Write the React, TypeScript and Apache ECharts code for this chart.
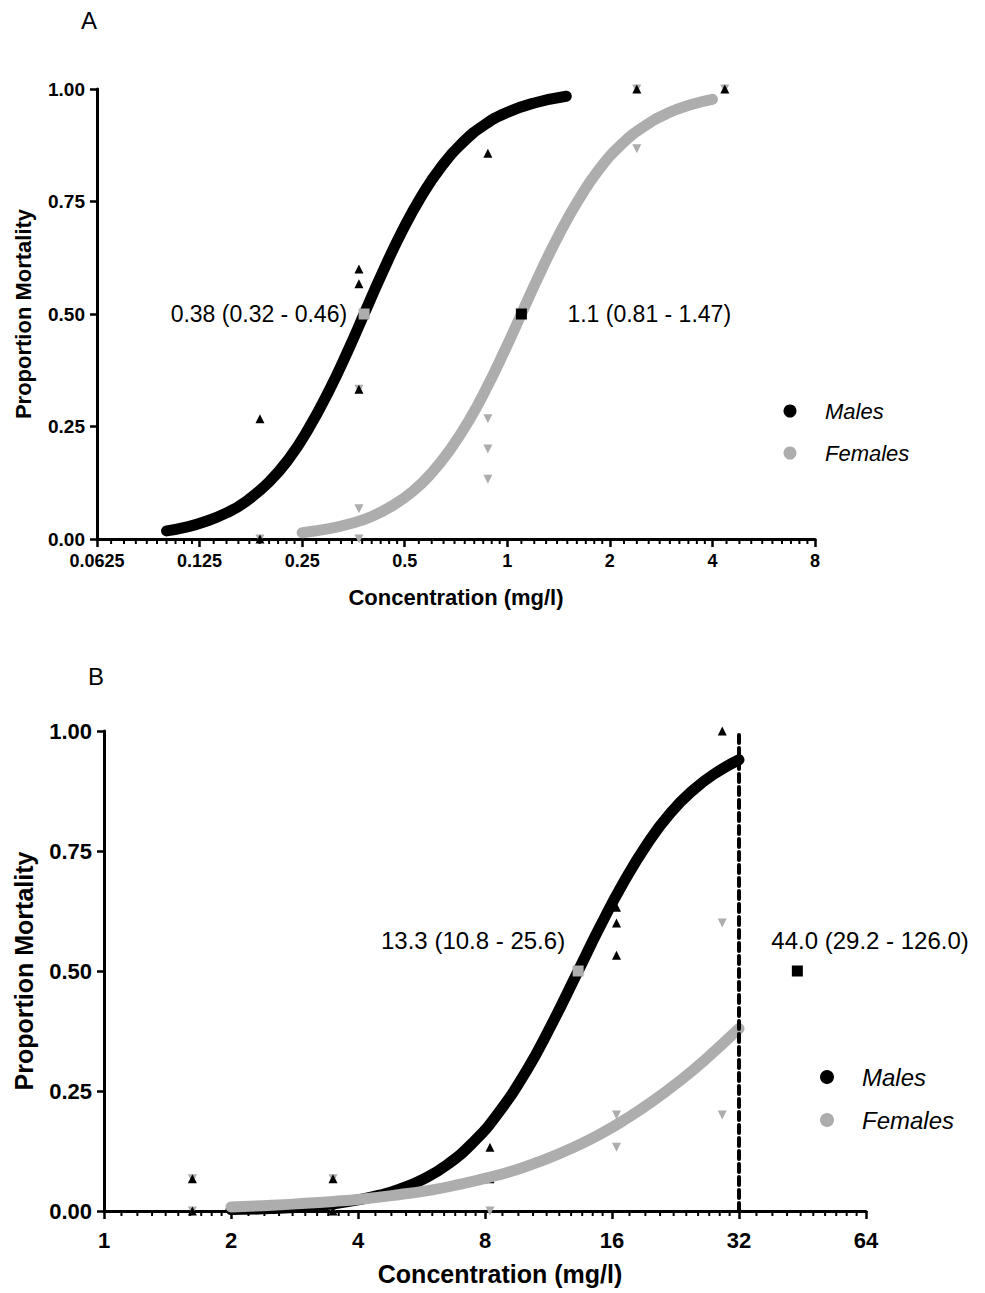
import React, { useEffect, useRef } from "react";
import * as echarts from "echarts";

// ---------- Data ----------
const xTicksA = [0.0625, 0.125, 0.25, 0.5, 1, 2, 4, 8];
const xTicksB = [1, 2, 4, 8, 16, 32, 64];
const yTicks = [0, 0.25, 0.5, 0.75, 1];

// Panel A observed points
const aMaleConc = [0.188, 0.188, 0.367, 0.367, 0.367, 0.877, 2.4, 4.35];
const aMaleMort = [0.267, 0.0, 0.6, 0.567, 0.333, 0.857, 1.0, 1.0];
const aFemaleConc = [0.188, 0.367, 0.367, 0.367, 0.877, 0.877, 0.877, 2.4, 2.4, 4.35];
const aFemaleMort = [0.0, 0.333, 0.067, 0.0, 0.267, 0.2, 0.133, 1.0, 0.867, 1.0];

// Panel A fitted curves
const aMaleCurveConc = [0.1, 0.115, 0.13, 0.15, 0.17, 0.2, 0.23, 0.26, 0.3, 0.34, 0.38, 0.43, 0.49, 0.56, 0.64, 0.74, 0.86, 1.0, 1.2, 1.49];
const aMaleCurveMort = [0.018, 0.027, 0.039, 0.058, 0.082, 0.127, 0.181, 0.243, 0.33, 0.417, 0.5, 0.592, 0.682, 0.762, 0.827, 0.881, 0.921, 0.948, 0.969, 0.984];
const aFemaleCurveConc = [0.25, 0.3, 0.35, 0.4, 0.46, 0.53, 0.6, 0.68, 0.77, 0.87, 0.98, 1.1, 1.25, 1.42, 1.62, 1.85, 2.15, 2.5, 2.95, 3.45, 4.0];
const aFemaleCurveMort = [0.014, 0.023, 0.035, 0.05, 0.074, 0.107, 0.147, 0.199, 0.262, 0.336, 0.417, 0.5, 0.592, 0.677, 0.754, 0.819, 0.875, 0.915, 0.946, 0.965, 0.977];

// Panel A LC50 markers
const aLcConc = [0.38, 1.1];
const aLcLabels = ["0.38 (0.32 - 0.46)", "1.1 (0.81 - 1.47)"];

// Panel B observed points
const bMaleConc = [1.62, 1.62, 3.49, 3.49, 8.22, 8.22, 16.4, 16.4, 16.4, 29.2];
const bMaleMort = [0.067, 0.0, 0.067, 0.0, 0.133, 0.067, 0.633, 0.6, 0.533, 1.0];
const bFemaleConc = [1.62, 1.62, 3.49, 3.49, 8.22, 16.4, 16.4, 29.2, 29.2];
const bFemaleMort = [0.067, 0.0, 0.067, 0.0, 0.0, 0.2, 0.133, 0.6, 0.2];

// Panel B fitted curves
const bMaleCurveConc = [2, 2.5, 3, 3.5, 4, 4.5, 5, 5.7, 6.5, 7.5, 8.5, 10, 11.5, 13.3, 15, 17, 19.5, 22, 25, 28, 32];
const bMaleCurveMort = [0.003, 0.005, 0.009, 0.015, 0.023, 0.033, 0.045, 0.066, 0.096, 0.143, 0.198, 0.29, 0.388, 0.5, 0.593, 0.683, 0.768, 0.829, 0.878, 0.911, 0.94];
const bFemaleCurveConc = [2, 2.5, 3, 3.5, 4, 5, 6, 7, 8, 9.5, 11, 13, 15, 17.5, 20, 23, 26.5, 32];
const bFemaleCurveMort = [0.0085, 0.012, 0.016, 0.02, 0.024, 0.034, 0.044, 0.056, 0.068, 0.086, 0.106, 0.133, 0.16, 0.195, 0.229, 0.269, 0.314, 0.38];

// Panel B LC50 markers
const bLcConc = [13.3, 44.0];
const bLcLabels = ["13.3 (10.8 - 25.6)", "44.0 (29.2 - 126.0)"];
const bCutoff = 32;

const legendNames = ["Males", "Females"];
const panelLetters = ["A", "B"];
const xTitle = "Concentration (mg/l)";
const yTitle = "Proportion Mortality";

const BLACK = "#000000";
const GRAY = "#adadad";
const FONT = 'Arial, "Liberation Sans", Helvetica, sans-serif';

const L = (v: number) => Math.log2(v);
const pairs = (xs: number[], ys: number[]) => xs.map((x, i) => [L(x), ys[i]]);

function minorTicks(majors: number[]) {
  const out: number[][] = [];
  for (let i = 0; i < majors.length - 1; i++) {
    const a = majors[i];
    for (let k = 1; k <= 9; k++) out.push([L(a * (1 + k / 10)), 0]);
  }
  return out;
}

function fmt(v: number) {
  const val = Math.pow(2, v);
  return String(Math.round(val * 10000) / 10000);
}

export default function App() {
  const ref = useRef<HTMLDivElement>(null);
  useEffect(() => {
    if (!ref.current) return;
    const chart = echarts.init(ref.current, null, { renderer: "svg" });

    const mkX = (idx: number, ticks: number[], labelSize: number, labelMargin: number, titleSize: number, nameGap: number, padLeft: number) => ({
      type: "value",
      gridIndex: idx,
      min: L(ticks[0]),
      max: L(ticks[ticks.length - 1]),
      interval: 1,
      axisLine: { show: true, onZero: false, lineStyle: { color: BLACK, width: 3 } },
      axisTick: { show: true, length: 8, lineStyle: { color: BLACK, width: 2.5 } },
      splitLine: { show: false },
      axisLabel: {
        formatter: (v: number) => fmt(v),
        fontSize: labelSize,
        fontWeight: "bold",
        color: BLACK,
        fontFamily: FONT,
        margin: labelMargin,
      },
      name: xTitle,
      nameLocation: "middle",
      nameGap,
      nameTextStyle: { fontSize: titleSize, fontWeight: "bold", color: BLACK, fontFamily: FONT, padding: [0, 0, 0, padLeft] },
    });

    const mkY = (idx: number, labelSize: number, titleSize: number, nameGap: number) => ({
      type: "value",
      gridIndex: idx,
      min: yTicks[0],
      max: yTicks[yTicks.length - 1],
      interval: yTicks[1] - yTicks[0],
      axisLine: { show: true, onZero: false, lineStyle: { color: BLACK, width: 3 } },
      axisTick: { show: true, length: 7, lineStyle: { color: BLACK, width: 2.5 } },
      splitLine: { show: false },
      axisLabel: {
        formatter: (v: number) => v.toFixed(2),
        fontSize: labelSize,
        fontWeight: "bold",
        color: BLACK,
        fontFamily: FONT,
        margin: 12,
      },
      name: yTitle,
      nameLocation: "middle",
      nameGap,
      nameTextStyle: { fontSize: titleSize, fontWeight: "bold", color: BLACK, fontFamily: FONT },
    });

    const minorSeries = (idx: number, ticks: number[]) => ({
      type: "custom",
      xAxisIndex: idx,
      yAxisIndex: idx,
      silent: true,
      z: 1,
      data: minorTicks(ticks),
      renderItem: (_p: any, api: any) => {
        const p = api.coord([api.value(0), 0]);
        return {
          type: "line",
          shape: { x1: p[0], y1: p[1], x2: p[0], y2: p[1] + 5 },
          style: { stroke: BLACK, lineWidth: 2 },
        };
      },
    });

    const scatter = (idx: number, xs: number[], ys: number[], color: string, down: boolean) => ({
      type: "scatter",
      xAxisIndex: idx,
      yAxisIndex: idx,
      symbol: "triangle",
      symbolSize: 9,
      symbolRotate: down ? 180 : 0,
      itemStyle: { color, opacity: 1 },
      clip: false,
      z: 2,
      data: pairs(xs, ys),
    });

    const curve = (idx: number, name: string, xs: number[], ys: number[], color: string, extra: any = {}) => ({
      type: "line",
      name,
      xAxisIndex: idx,
      yAxisIndex: idx,
      smooth: true,
      showSymbol: false,
      symbol: "none",
      clip: false,
      z: 3,
      lineStyle: { color, width: 11, cap: "round", join: "round", opacity: 1 },
      itemStyle: { color },
      data: pairs(xs, ys),
      ...extra,
    });

    const lcSeries = (idx: number, xs: number[], labels: string[], colors: string[], positions: any[], aligns: string[], fontSize: number) => ({
      type: "scatter",
      xAxisIndex: idx,
      yAxisIndex: idx,
      symbol: "rect",
      symbolSize: 11,
      clip: false,
      z: 5,
      data: xs.map((x, i) => ({
        value: [L(x), 0.5],
        itemStyle: { color: colors[i], opacity: 1 },
        label: {
          show: true,
          formatter: labels[i],
          position: positions[i],
          align: aligns[i],
          verticalAlign: "middle",
          fontSize,
          color: BLACK,
          opacity: 1,
          fontFamily: FONT,
        },
      })),
    });

    const legendGraphics = (cx: number, tx: number, ys: number[], r: number, fs: number) => {
      const out: any[] = [];
      legendNames.forEach((n, i) => {
        out.push({ type: "circle", shape: { cx, cy: ys[i], r }, style: { fill: i === 0 ? BLACK : GRAY } });
        out.push({
          type: "text",
          x: tx,
          y: ys[i],
          style: { text: n, fontSize: fs, fontStyle: "italic", fill: BLACK, fontFamily: FONT, verticalAlign: "middle" },
        });
      });
      return out;
    };

    const option: any = {
      animation: false,
      backgroundColor: "#ffffff",
      grid: [
        { left: 97, top: 89, width: 718, height: 450 },
        { left: 104, top: 731, width: 762, height: 480 },
      ],
      xAxis: [mkX(0, xTicksA, 18, 13, 22, 47, 0), mkX(1, xTicksB, 22, 18, 25, 50, 30)],
      yAxis: [mkY(0, 19, 22, 63), mkY(1, 22, 25, 68)],
      series: [
        minorSeries(0, xTicksA),
        minorSeries(1, xTicksB),
        scatter(0, aFemaleConc, aFemaleMort, GRAY, true),
        scatter(0, aMaleConc, aMaleMort, BLACK, false),
        scatter(1, bFemaleConc, bFemaleMort, GRAY, true),
        scatter(1, bMaleConc, bMaleMort, BLACK, false),
        curve(0, legendNames[0], aMaleCurveConc, aMaleCurveMort, BLACK),
        curve(0, legendNames[1], aFemaleCurveConc, aFemaleCurveMort, GRAY),
        curve(1, legendNames[0], bMaleCurveConc, bMaleCurveMort, BLACK, {
          markLine: {
            silent: true,
            symbol: "none",
            label: { show: false },
            lineStyle: { color: BLACK, width: 4, type: [8, 5], cap: "round", opacity: 1 },
            data: [{ xAxis: L(bCutoff) }],
          },
        }),
        curve(1, legendNames[1], bFemaleCurveConc, bFemaleCurveMort, GRAY),
        lcSeries(0, aLcConc, aLcLabels, [GRAY, BLACK], [[-11.5, 5.5], [51.5, 5.5]], ["right", "left"], 23),
        lcSeries(1, bLcConc, bLcLabels, [GRAY, BLACK], [[-7.5, -25.5], [-20.5, -25.5]], ["right", "left"], 24),
      ],
      graphic: [
        { type: "text", x: 81, y: 8, style: { text: panelLetters[0], fontSize: 24, fill: BLACK, fontFamily: FONT } },
        { type: "text", x: 88, y: 664, style: { text: panelLetters[1], fontSize: 24, fill: BLACK, fontFamily: FONT } },
        ...legendGraphics(790, 825, [411, 453], 6.5, 22),
        ...legendGraphics(827, 862, [1077, 1120], 7, 24),
      ],
    };

    chart.setOption(option);
    return () => chart.dispose();
  }, []);

  return <div ref={ref} style={{ position: "absolute", left: 0, top: 0, width: 985, height: 1293 }} />;
}
